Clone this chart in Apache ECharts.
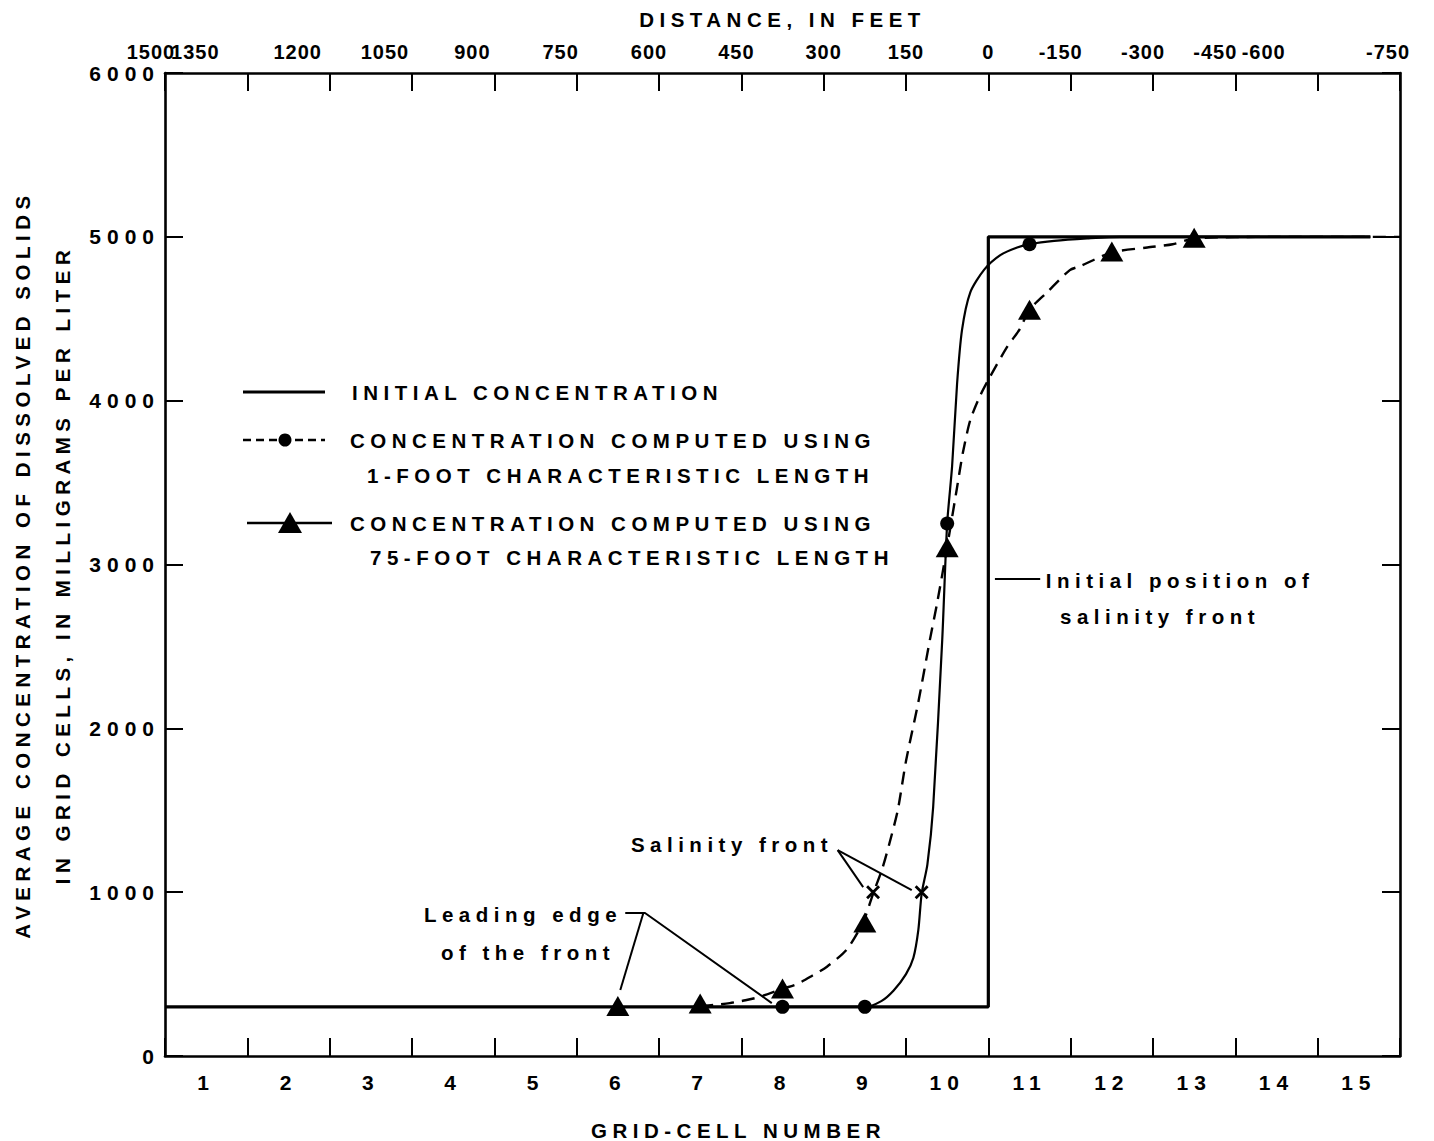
<!DOCTYPE html>
<html>
<head>
<meta charset="utf-8">
<script src="https://cdn.jsdelivr.net/npm/echarts@6/dist/echarts.min.js"></script>
<style>
  html, body { margin: 0; padding: 0; background: #fff; }
  #chart { width: 1434px; height: 1141px; }
  #chart text { letter-spacing: 0px; }
  #chart text[style*="21px"] { letter-spacing: 6px; }
  #chart text[style*="20.5px"] { letter-spacing: 5.5px; }
  #chart text[style*="20px"] { letter-spacing: 1px; }
</style>
</head>
<body>
<div id="chart"></div>
<script>
// ---------------- data ----------------
const cellNumbers = ['1','2','3','4','5','6','7','8','9','10','11','12','13','14','15'];
const distanceLabels = ['1500','1350','1200','1050','900','750','600','450','300','150',
                        '0','-150','-300','-450','-600','-750'];

// initial concentration (x in grid-cell units measured from left edge)
const initialX = [0, 10, 10, 14.64];
const initialY = [300, 300, 5000, 5000];

// curve through the 1-foot characteristic length results (solid curve in plot)
const curve1ftX = [7.5, 8.5, 8.7, 8.85, 9.0, 9.09, 9.15, 9.19, 9.26, 9.33, 9.44, 9.5, 9.56, 9.62, 9.68, 9.78, 9.95, 10.15, 10.35, 10.5, 10.8, 11.2, 11.6, 14.64];
const curve1ftY = [300, 300, 335, 400, 500, 600, 770, 990, 1170, 1520, 2540, 3250, 3600, 4100, 4430, 4660, 4800, 4890, 4935, 4955, 4975, 4990, 5000, 5000];

// curve through the 75-foot characteristic length results (dashed curve in plot)
const curve75ftX = [6.5, 6.66, 6.86, 7.05, 7.23, 7.5, 7.68, 7.86, 8.04, 8.28, 8.48, 8.6, 8.71, 8.8, 8.9, 9.0, 9.15, 9.29, 9.38, 9.5, 9.62, 9.69, 9.78, 9.9, 10.02, 10.23, 10.38, 10.5, 10.71, 10.99, 11.11, 11.5, 11.93, 12.24, 12.5, 13.0, 13.5, 14.3, 15];
const curve75ftY = [305, 311, 323, 340, 362, 410, 440, 490, 545, 650, 818, 990, 1140, 1300, 1500, 1800, 2160, 2540, 2770, 3110, 3470, 3680, 3880, 4030, 4145, 4330, 4435, 4555, 4660, 4797, 4820, 4905, 4935, 4955, 4990, 4998, 5000, 5000, 5000];

// computed cell concentrations
const points1ftX = [7.5, 8.5, 9.5, 10.5];
const points1ftY = [300, 300, 3250, 4955];
const points75ftX = [5.5, 6.5, 7.5, 8.5, 9.5, 10.5, 11.5, 12.5];
const points75ftY = [305, 320, 412, 815, 3105, 4555, 4910, 4995];

// salinity front positions (x marks)
const frontX = [8.6, 9.19];
const frontY = [1000, 1000];

// annotation texts and their anchors (data coordinates)
const noteTexts = ['Salinity front', 'Leading edge', 'of the front', 'Initial position of', 'salinity front'];
const noteX = [6.887, 4.348, 4.409, 12.328, 12.085];
const noteY = [1288, 861, 629, 2905, 2680];

// leader lines (data coordinates)
const leaders = [
  [[8.17, 1257], [8.48, 1031]],
  [[8.17, 1257], [9.07, 1013]],
  [[5.59, 873], [5.83, 873], [7.37, 323]],
  [[5.81, 873], [5.53, 403]],
  [[10.08, 2911], [10.63, 2911]]
];

// ---------------- layout / style ----------------
const FONT = 'Liberation Sans';
const topShift = [-14, -52, -32, -27, -22, -16, -10, -5, 0, 0, 0, -10, -10, -20, -54, -12];

function zip(xs, ys) { return xs.map((x, i) => [x, ys[i]]); }

const topRich = {};
topShift.forEach((s, i) => {
  if (s) {
    topRich['s' + i] = {
      fontSize: 20, fontWeight: 'bold', fontFamily: FONT, color: '#000',
      padding: s < 0 ? [0, -2 * s, 0, 0] : [0, 0, 0, 2 * s]
    };
  }
});

const axisLineStyle = { color: '#000', width: 2.6 };
const tickStyle = { color: '#000', width: 2 };

const chart = echarts.init(document.getElementById('chart'), null, { renderer: 'svg' });

const leaderSeries = leaders.map((pts, i) => ({
  name: 'leader' + i,
  type: 'line',
  xAxisIndex: 0, yAxisIndex: 0,
  data: pts,
  symbol: 'none',
  silent: true,
  lineStyle: { color: '#000', width: 2 },
  z: 3
}));

const option = {
  animation: false,
  backgroundColor: '#fff',
  grid: { left: 165, right: 34, top: 73, bottom: 85, containLabel: false, outerBoundsMode: 'none' },
  xAxis: [
    {
      type: 'value', position: 'top', min: 0, max: 15, interval: 1,
      name: 'DISTANCE, IN FEET', nameLocation: 'middle', nameGap: 43,
      nameTextStyle: { fontSize: 20.5, fontWeight: 'bold', fontFamily: FONT, color: '#000' },
      axisLine: { show: true, onZero: false, lineStyle: axisLineStyle },
      axisTick: { show: true, inside: true, length: 18, lineStyle: tickStyle },
      splitLine: { show: false },
      axisLabel: {
        show: true, margin: 11, fontSize: 20, fontWeight: 'bold', fontFamily: FONT, color: '#000',
        showMinLabel: true, showMaxLabel: true,
        formatter: function (v) {
          const i = Math.round(v);
          const t = distanceLabels[i];
          return topShift[i] ? '{s' + i + '|' + t + '}' : t;
        },
        rich: topRich
      }
    },
    {
      type: 'category', position: 'bottom', data: cellNumbers, boundaryGap: true,
      name: 'GRID-CELL NUMBER', nameLocation: 'middle', nameGap: 64,
      nameTextStyle: { fontSize: 20.5, fontWeight: 'bold', fontFamily: FONT, color: '#000', padding: [0, 88, 0, 0] },
      axisLine: { show: true, onZero: false, lineStyle: axisLineStyle },
      axisTick: { show: true, inside: true, length: 18, interval: 0, alignWithLabel: false, lineStyle: tickStyle },
      splitLine: { show: false },
      axisLabel: { interval: 0, margin: 16, fontSize: 21, fontWeight: 'bold', fontFamily: FONT, color: '#000' }
    }
  ],
  yAxis: [
    {
      type: 'value', position: 'left', min: 0, max: 6000, interval: 1000,
      name: 'AVERAGE CONCENTRATION OF DISSOLVED SOLIDS\nIN GRID CELLS, IN MILLIGRAMS PER LITER',
      nameLocation: 'middle', nameRotate: 90, nameGap: 83,
      nameTextStyle: { fontSize: 20.5, fontWeight: 'bold', fontFamily: FONT, color: '#000', lineHeight: 40 },
      axisLine: { show: true, onZero: false, lineStyle: axisLineStyle },
      axisTick: { show: true, inside: true, length: 18, lineStyle: tickStyle },
      splitLine: { show: false },
      axisLabel: { margin: 5, fontSize: 21, fontWeight: 'bold', fontFamily: FONT, color: '#000',
                   showMinLabel: true, showMaxLabel: true,
                   formatter: function (v) { return String(v); } }
    },
    {
      type: 'value', position: 'right', min: 0, max: 6000, interval: 1000,
      axisLine: { show: true, onZero: false, lineStyle: axisLineStyle },
      axisTick: { show: true, inside: true, length: 18, lineStyle: tickStyle },
      splitLine: { show: false },
      axisLabel: { show: false }
    }
  ],
  series: [
    {
      name: 'INITIAL CONCENTRATION', type: 'line', xAxisIndex: 0, yAxisIndex: 0,
      data: zip(initialX, initialY), symbol: 'none',
      lineStyle: { color: '#000', width: 3.2 }, z: 4
    },
    {
      name: 'curve 1-foot', type: 'line', xAxisIndex: 0, yAxisIndex: 0,
      data: zip(curve1ftX, curve1ftY), symbol: 'none', smooth: 0.25,
      lineStyle: { color: '#000', width: 2.2 }, z: 4
    },
    {
      name: 'curve 75-foot', type: 'line', xAxisIndex: 0, yAxisIndex: 0,
      data: zip(curve75ftX, curve75ftY), symbol: 'none', smooth: 0.25,
      lineStyle: { color: '#000', width: 2.4, type: [13, 8] }, z: 4
    },
    {
      name: 'CONCENTRATION COMPUTED USING 1-FOOT CHARACTERISTIC LENGTH', type: 'scatter',
      xAxisIndex: 0, yAxisIndex: 0,
      data: zip(points1ftX, points1ftY), symbol: 'circle', symbolSize: 14,
      itemStyle: { color: '#000', opacity: 1 }, z: 6
    },
    {
      name: 'CONCENTRATION COMPUTED USING 75-FOOT CHARACTERISTIC LENGTH', type: 'scatter',
      xAxisIndex: 0, yAxisIndex: 0,
      data: zip(points75ftX, points75ftY), symbol: 'triangle', symbolSize: [23, 20],
      itemStyle: { color: '#000', opacity: 1 }, z: 6
    },
    {
      name: 'Salinity front', type: 'scatter', xAxisIndex: 0, yAxisIndex: 0,
      data: zip(frontX, frontY), symbol: 'path://M0,0L10,10M10,0L0,10', symbolSize: 12,
      itemStyle: { color: '#000', borderColor: '#000', borderWidth: 2.8, opacity: 1 }, z: 6
    },
    {
      name: 'notes', type: 'scatter', xAxisIndex: 0, yAxisIndex: 0,
      data: noteTexts.map((t, i) => ({ name: t, value: [noteX[i], noteY[i]] })),
      symbolSize: 0, silent: true,
      itemStyle: { opacity: 1 },
      label: {
        show: true, position: 'inside', formatter: '{b}', align: 'center', verticalAlign: 'middle',
        fontSize: 20.5, fontWeight: 'bold', fontFamily: FONT, color: '#000'
      },
      z: 7
    }
  ].concat(leaderSeries),
  graphic: [
    // legend
    { type: 'line', shape: { x1: 243, y1: 392, x2: 325, y2: 392 }, style: { stroke: '#000', lineWidth: 3 } },
    { type: 'text', style: { text: 'INITIAL CONCENTRATION', x: 352, y: 392, fill: '#000',
        fontSize: 20.5, fontWeight: 'bold', fontFamily: FONT, align: 'left', verticalAlign: 'middle' } },

    { type: 'line', shape: { x1: 243, y1: 440, x2: 325, y2: 440 }, style: { stroke: '#000', lineWidth: 2.4, lineDash: [8, 5] } },
    { type: 'circle', shape: { cx: 285, cy: 440, r: 6.5 }, style: { fill: '#000' } },
    { type: 'text', style: { text: 'CONCENTRATION COMPUTED USING', x: 350, y: 440, fill: '#000',
        fontSize: 20.5, fontWeight: 'bold', fontFamily: FONT, align: 'left', verticalAlign: 'middle' } },
    { type: 'text', style: { text: '1-FOOT CHARACTERISTIC LENGTH', x: 367, y: 475, fill: '#000',
        fontSize: 20.5, fontWeight: 'bold', fontFamily: FONT, align: 'left', verticalAlign: 'middle' } },

    { type: 'line', shape: { x1: 247, y1: 523, x2: 332, y2: 523 }, style: { stroke: '#000', lineWidth: 2.4 } },
    { type: 'polygon', shape: { points: [[278, 533], [302, 533], [290, 512]] }, style: { fill: '#000' } },
    { type: 'text', style: { text: 'CONCENTRATION COMPUTED USING', x: 350, y: 523, fill: '#000',
        fontSize: 20.5, fontWeight: 'bold', fontFamily: FONT, align: 'left', verticalAlign: 'middle' } },
    { type: 'text', style: { text: '75-FOOT CHARACTERISTIC LENGTH', x: 370, y: 557, fill: '#000',
        fontSize: 20.5, fontWeight: 'bold', fontFamily: FONT, align: 'left', verticalAlign: 'middle' } }
  ]
};

chart.setOption(option);
</script>
</body>
</html>
